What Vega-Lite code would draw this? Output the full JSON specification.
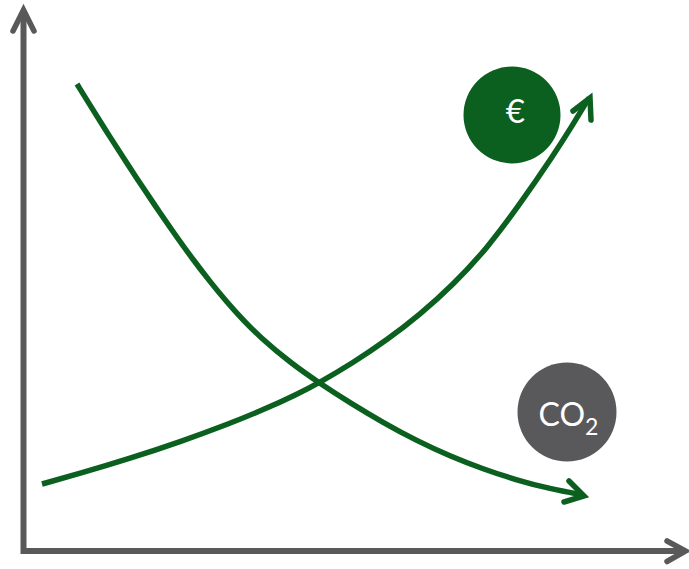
{
  "$schema": "https://vega.github.io/schema/vega-lite/v6.json",
  "width": 689,
  "height": 569,
  "padding": 0,
  "autosize": {"type": "none"},
  "background": "white",
  "config": {"view": {"stroke": null}},
  "datasets": {
    "paths": [
      {"series": "axes", "part": "line", "path": "frame", "i": 0, "x": 23.5, "y": 12},
      {"series": "axes", "part": "line", "path": "frame", "i": 1, "x": 23.5, "y": 551},
      {"series": "axes", "part": "line", "path": "frame", "i": 2, "x": 684, "y": 551},
      {"series": "axes", "part": "head", "path": "y-head", "i": 0, "x": 13, "y": 31},
      {"series": "axes", "part": "head", "path": "y-head", "i": 1, "x": 23.5, "y": 10},
      {"series": "axes", "part": "head", "path": "y-head", "i": 2, "x": 34, "y": 31},
      {"series": "axes", "part": "head", "path": "x-head", "i": 0, "x": 667, "y": 541},
      {"series": "axes", "part": "head", "path": "x-head", "i": 1, "x": 685.5, "y": 551},
      {"series": "axes", "part": "head", "path": "x-head", "i": 2, "x": 667, "y": 561.5},

      {"series": "cost", "part": "line", "path": "cost-curve", "i": 0, "x": 42, "y": 484},
      {"series": "cost", "part": "line", "path": "cost-curve", "i": 1, "x": 80, "y": 473.4},
      {"series": "cost", "part": "line", "path": "cost-curve", "i": 2, "x": 130, "y": 458.4},
      {"series": "cost", "part": "line", "path": "cost-curve", "i": 3, "x": 180, "y": 441.9},
      {"series": "cost", "part": "line", "path": "cost-curve", "i": 4, "x": 230, "y": 423.4},
      {"series": "cost", "part": "line", "path": "cost-curve", "i": 5, "x": 263, "y": 409.9},
      {"series": "cost", "part": "line", "path": "cost-curve", "i": 6, "x": 297, "y": 394.3},
      {"series": "cost", "part": "line", "path": "cost-curve", "i": 7, "x": 320, "y": 382.3},
      {"series": "cost", "part": "line", "path": "cost-curve", "i": 8, "x": 353, "y": 362.8},
      {"series": "cost", "part": "line", "path": "cost-curve", "i": 9, "x": 387, "y": 340},
      {"series": "cost", "part": "line", "path": "cost-curve", "i": 10, "x": 420, "y": 314.6},
      {"series": "cost", "part": "line", "path": "cost-curve", "i": 11, "x": 453, "y": 284.9},
      {"series": "cost", "part": "line", "path": "cost-curve", "i": 12, "x": 487, "y": 248.5},
      {"series": "cost", "part": "line", "path": "cost-curve", "i": 13, "x": 520, "y": 204},
      {"series": "cost", "part": "line", "path": "cost-curve", "i": 14, "x": 553, "y": 156},
      {"series": "cost", "part": "line", "path": "cost-curve", "i": 15, "x": 572, "y": 126},
      {"series": "cost", "part": "line", "path": "cost-curve", "i": 16, "x": 589, "y": 98},
      {"series": "cost", "part": "head", "path": "cost-head", "i": 0, "x": 573, "y": 111},
      {"series": "cost", "part": "head", "path": "cost-head", "i": 1, "x": 590, "y": 98},
      {"series": "cost", "part": "head", "path": "cost-head", "i": 2, "x": 591, "y": 120},

      {"series": "emissions", "part": "line", "path": "emissions-curve", "i": 0, "x": 77, "y": 84},
      {"series": "emissions", "part": "line", "path": "emissions-curve", "i": 1, "x": 93, "y": 110},
      {"series": "emissions", "part": "line", "path": "emissions-curve", "i": 2, "x": 110, "y": 137},
      {"series": "emissions", "part": "line", "path": "emissions-curve", "i": 3, "x": 127, "y": 163.4},
      {"series": "emissions", "part": "line", "path": "emissions-curve", "i": 4, "x": 143, "y": 187.7},
      {"series": "emissions", "part": "line", "path": "emissions-curve", "i": 5, "x": 160, "y": 212.9},
      {"series": "emissions", "part": "line", "path": "emissions-curve", "i": 6, "x": 177, "y": 237.4},
      {"series": "emissions", "part": "line", "path": "emissions-curve", "i": 7, "x": 193, "y": 259.5},
      {"series": "emissions", "part": "line", "path": "emissions-curve", "i": 8, "x": 210, "y": 281.6},
      {"series": "emissions", "part": "line", "path": "emissions-curve", "i": 9, "x": 227, "y": 302.2},
      {"series": "emissions", "part": "line", "path": "emissions-curve", "i": 10, "x": 243, "y": 320},
      {"series": "emissions", "part": "line", "path": "emissions-curve", "i": 11, "x": 260, "y": 337},
      {"series": "emissions", "part": "line", "path": "emissions-curve", "i": 12, "x": 290, "y": 362.5},
      {"series": "emissions", "part": "line", "path": "emissions-curve", "i": 13, "x": 320, "y": 383.5},
      {"series": "emissions", "part": "line", "path": "emissions-curve", "i": 14, "x": 350, "y": 402.7},
      {"series": "emissions", "part": "line", "path": "emissions-curve", "i": 15, "x": 383, "y": 422.5},
      {"series": "emissions", "part": "line", "path": "emissions-curve", "i": 16, "x": 417, "y": 440.9},
      {"series": "emissions", "part": "line", "path": "emissions-curve", "i": 17, "x": 450, "y": 456.1},
      {"series": "emissions", "part": "line", "path": "emissions-curve", "i": 18, "x": 483, "y": 469},
      {"series": "emissions", "part": "line", "path": "emissions-curve", "i": 19, "x": 517, "y": 480.2},
      {"series": "emissions", "part": "line", "path": "emissions-curve", "i": 20, "x": 550, "y": 488.8},
      {"series": "emissions", "part": "line", "path": "emissions-curve", "i": 21, "x": 583, "y": 495},
      {"series": "emissions", "part": "head", "path": "emissions-head", "i": 0, "x": 569, "y": 481},
      {"series": "emissions", "part": "head", "path": "emissions-head", "i": 1, "x": 584, "y": 496},
      {"series": "emissions", "part": "head", "path": "emissions-head", "i": 2, "x": 564, "y": 502}
    ],
    "badges": [
      {"series": "cost", "x": 512, "y": 115},
      {"series": "emissions", "x": 567, "y": 412}
    ],
    "labels": [
      {"series": "cost", "main": "€", "sub": "", "x": 525, "y": 123},
      {"series": "emissions", "main": "CO", "sub": "2", "x": 585, "y": 426}
    ]
  },
  "encoding": {
    "x": {"field": "x", "type": "quantitative", "scale": {"domain": [0, 689], "nice": false, "zero": false}, "axis": null},
    "y": {"field": "y", "type": "quantitative", "scale": {"domain": [0, 569], "nice": false, "zero": false, "reverse": true}, "axis": null}
  },
  "layer": [
    {
      "data": {"name": "paths"},
      "transform": [{"filter": "datum.part === 'line' && datum.series === 'axes'"}],
      "mark": {"type": "line", "stroke": "#595959", "strokeWidth": 6, "strokeJoin": "miter", "strokeCap": "butt"},
      "encoding": {"detail": {"field": "path"}, "order": {"field": "i", "type": "quantitative"}}
    },
    {
      "data": {"name": "paths"},
      "transform": [{"filter": "datum.part === 'line' && datum.series !== 'axes'"}],
      "mark": {"type": "line", "stroke": "#0b6020", "strokeWidth": 5.5, "interpolate": "basis", "strokeCap": "butt"},
      "encoding": {"detail": {"field": "path"}, "order": {"field": "i", "type": "quantitative"}}
    },
    {
      "data": {"name": "paths"},
      "transform": [{"filter": "datum.part === 'head'"}],
      "mark": {"type": "line", "strokeWidth": 5.5, "strokeJoin": "miter", "strokeCap": "round"},
      "encoding": {
        "detail": {"field": "path"},
        "order": {"field": "i", "type": "quantitative"},
        "color": {
          "field": "series",
          "type": "nominal",
          "scale": {"domain": ["axes", "cost", "emissions"], "range": ["#595959", "#0b6020", "#0b6020"]},
          "legend": null
        }
      }
    },
    {
      "data": {"name": "badges"},
      "mark": {"type": "point", "shape": "circle", "filled": true, "opacity": 1},
      "encoding": {
        "size": {"condition": {"test": "datum.series === 'cost'", "value": 9409}, "value": 9801},
        "fill": {
          "field": "series",
          "type": "nominal",
          "scale": {"domain": ["cost", "emissions"], "range": ["#0b6020", "#59595b"]},
          "legend": null
        }
      }
    },
    {
      "data": {"name": "labels"},
      "mark": {"type": "text", "font": "Lato", "fill": "white", "align": "right", "baseline": "alphabetic"},
      "encoding": {
        "text": {"field": "main"},
        "size": {"condition": {"test": "datum.series === 'cost'", "value": 33}, "value": 32}
      }
    },
    {
      "data": {"name": "labels"},
      "mark": {"type": "text", "font": "Lato", "fontSize": 23, "fill": "white", "align": "left", "baseline": "alphabetic", "dy": 9},
      "encoding": {"text": {"field": "sub"}}
    }
  ]
}
